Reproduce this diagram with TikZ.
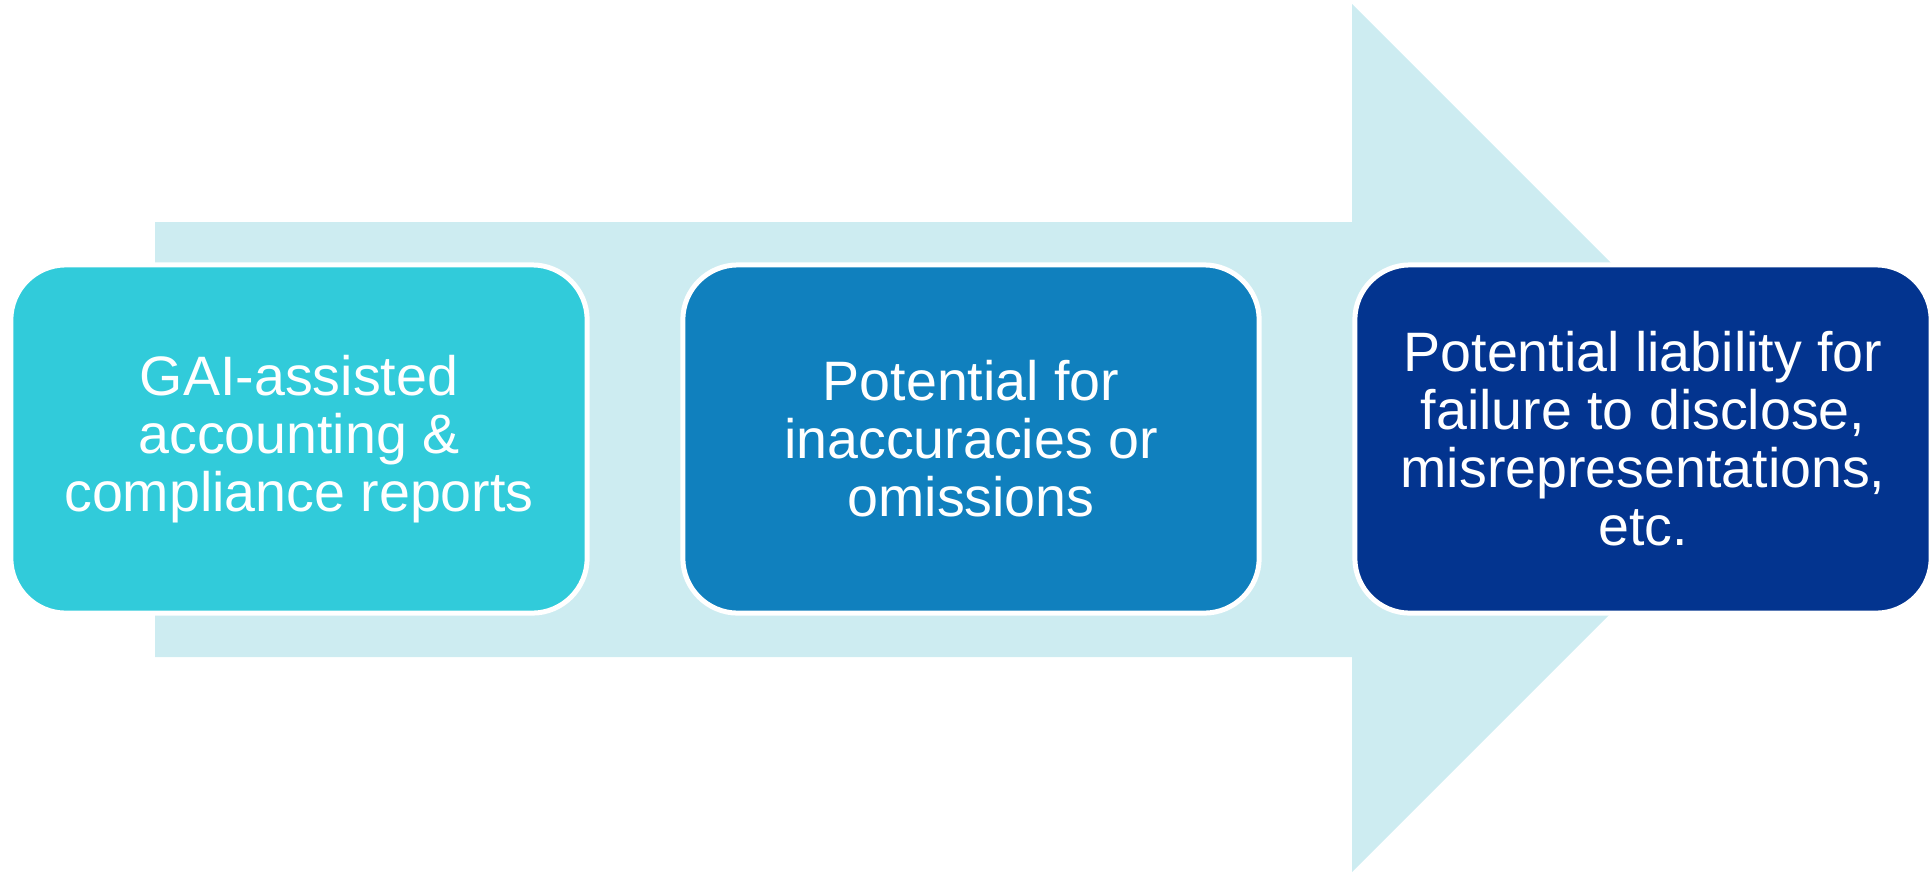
\documentclass[tikz,border=0pt]{standalone}
\usepackage{fontspec}
\setmainfont{Liberation Sans}
\usepackage{xcolor}
\definecolor{arrowblue}{RGB}{205,236,241}
\definecolor{stepcyan}{RGB}{49,203,218}
\definecolor{stepmid}{RGB}{16,128,190}
\definecolor{stepdark}{RGB}{3,52,143}

\begin{document}
\begin{tikzpicture}[x=0.01cm,y=-0.01cm,
	stepbox/.style={rectangle, rounded corners=0.55cm, draw=white, line width=0.05cm,
		minimum width=5.76cm, minimum height=3.48cm, inner sep=0pt,
		text=white, align=center, font=\fontsize{15.8pt}{16.5pt}\selectfont}]
			%\draw[help lines,step=100] (0,0) grid (1931,872);
			\useasboundingbox (0,0) rectangle (1931,872);
			
			\fill[arrowblue] (155,222) -- (1352,222) -- (1352,4) -- (1786,438)
				-- (1352,872) -- (1352,657) -- (155,657) -- cycle;
			
			\node[stepbox, fill=stepcyan] (gai) at (299,439) {GAI-assisted\\accounting \&\\compliance reports};
			\node[stepbox, fill=stepmid] (errors) at (971,439) {Potential for\\inaccuracies or\\omissions};
			\node[stepbox, fill=stepdark] (liability) at (1643,439) {Potential liability for\\failure to disclose,\\misrepresentations,\\etc.};
			
			\end{tikzpicture}
\end{document}
